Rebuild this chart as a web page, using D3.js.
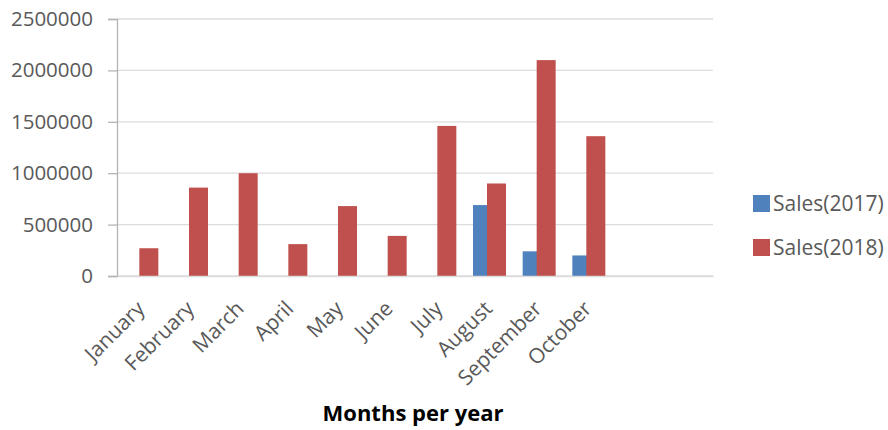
<!DOCTYPE html>
<html>
<head>
<meta charset="utf-8">
<script src="https://cdn.jsdelivr.net/npm/d3@7"></script>
<style>
  html, body { margin: 0; padding: 0; background: #ffffff; }
  svg { display: block; }
  text { font-family: "Open Sans", "Noto Sans", sans-serif; }
</style>
</head>
<body>
<svg id="chart" width="888" height="430"></svg>
<script>
// Monthly sales, two years side by side
const months = ["January", "February", "March", "April", "May", "June",
                "July", "August", "September", "October"];
// the category axis keeps room for the rest of the year
const slotLabels = [...months, "", ""];
const sales2017 = [null, null, null, null, null, null, null, 690000, 240000, 200000];
const sales2018 = [270000, 860000, 1000000, 310000, 680000, 390000, 1460000, 900000, 2100000, 1360000];
const yTicks = [0, 500000, 1000000, 1500000, 2000000, 2500000];
const seriesNames = ["Sales(2017)", "Sales(2018)"];
const seriesColors = ["#4f81bd", "#c0504d"];

const svg = d3.select("#chart");
const plot = { left: 117, right: 713, top: 19, bottom: 276 };

const x = d3.scaleBand()
  .domain(d3.range(slotLabels.length))
  .range([plot.left, plot.right]);

const y = d3.scaleLinear()
  .domain([0, 2500000])
  .range([plot.bottom, plot.top]);

// horizontal gridlines
svg.append("g")
  .selectAll("line")
  .data(yTicks)
  .join("line")
  .attr("x1", plot.left).attr("x2", plot.right)
  .attr("y1", d => y(d)).attr("y2", d => y(d))
  .attr("stroke", "#dcdcdc").attr("stroke-width", 1.3);

// value axis
const yAxis = svg.append("g")
  .attr("transform", `translate(${plot.left},0)`)
  .call(d3.axisLeft(y).tickValues(yTicks).tickFormat(d3.format("d"))
    .tickSize(9).tickPadding(15));
yAxis.select(".domain").attr("stroke", "#b4b4b4").attr("stroke-width", 1.3);
yAxis.selectAll(".tick line").attr("stroke", "#b4b4b4").attr("stroke-width", 1.3);
yAxis.selectAll(".tick text").attr("fill", "#595959").style("font-size", "20.5px");

// bars: the two series overlap a little inside each month
const barW = 19;
const groupHalf = 16.5;
const seriesData = [sales2017, sales2018];
seriesData.forEach((vals, si) => {
  svg.append("g")
    .selectAll("rect")
    .data(vals.map((v, i) => ({ i, v })).filter(d => d.v != null))
    .join("rect")
    .attr("x", d => {
      const c = x(d.i) + x.bandwidth() / 2;
      return si === 0 ? c - groupHalf : c + groupHalf - barW;
    })
    .attr("y", d => y(d.v))
    .attr("width", barW)
    .attr("height", d => y(0) - y(d.v))
    .attr("fill", seriesColors[si]);
});

// category axis
const xAxis = svg.append("g")
  .attr("transform", `translate(0,${plot.bottom})`)
  .call(d3.axisBottom(x).tickFormat(i => slotLabels[i]).tickSize(0));
xAxis.select(".domain").attr("stroke", "#dcdcdc").attr("stroke-width", 1.3);
xAxis.selectAll(".tick text")
  .attr("fill", "#595959")
  .style("font-size", "21px")
  .attr("text-anchor", "end")
  .attr("dy", null)
  .attr("y", 0)
  .attr("transform", "translate(4,34) rotate(-45)");

// axis title
svg.append("text")
  .attr("x", (plot.left + plot.right) / 2 - 2)
  .attr("y", 421)
  .attr("text-anchor", "middle")
  .attr("fill", "#000000")
  .style("font-size", "22px")
  .style("font-weight", "bold")
  .text("Months per year");

// legend
const legend = svg.append("g")
  .selectAll("g")
  .data(seriesNames)
  .join("g")
  .attr("transform", (d, i) => `translate(753,${195 + i * 44})`);
legend.append("rect")
  .attr("width", 17).attr("height", 17)
  .attr("fill", (d, i) => seriesColors[i]);
legend.append("text")
  .attr("x", 20).attr("y", 9)
  .attr("dy", "0.35em")
  .attr("fill", "#595959")
  .style("font-size", "21px")
  .text(d => d);
</script>
</body>
</html>
